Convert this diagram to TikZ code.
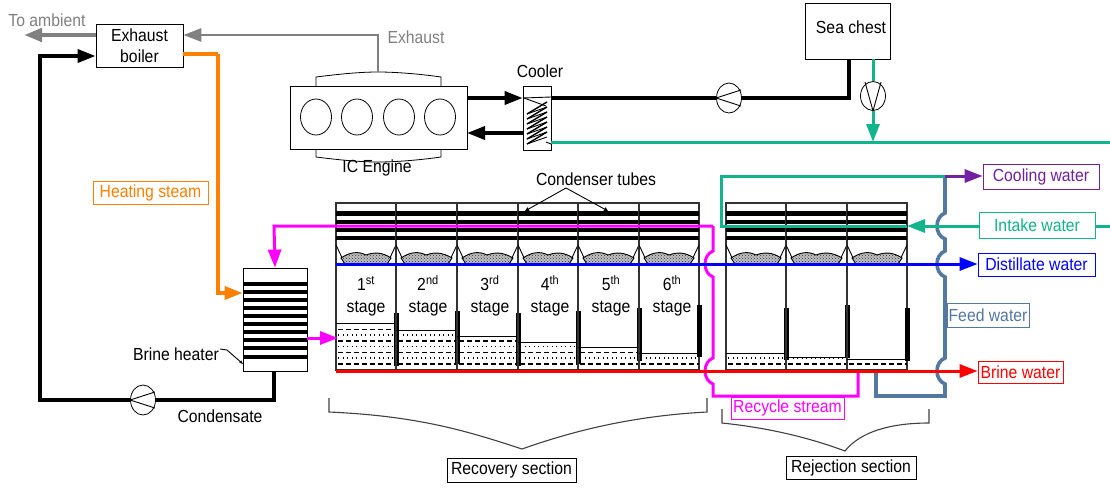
\documentclass[tikz,border=0pt]{standalone}
\usepackage{fontspec}
\setmainfont{Liberation Sans}[FakeStretch=0.9]
\usetikzlibrary{arrows.meta,calc,patterns,shapes.geometric}
\definecolor{steamorange}{RGB}{255,128,0}
\definecolor{seagreen}{RGB}{18,180,140}
\definecolor{feedsteel}{RGB}{84,120,160}
\definecolor{coolpurple}{RGB}{112,32,160}
\definecolor{exhaustgray}{RGB}{128,128,128}
\definecolor{recyclepink}{RGB}{255,0,255}
\definecolor{distblue}{RGB}{0,0,255}
\definecolor{brinered}{RGB}{255,0,0}
\tikzset{
    plant diagram/.style = {>={Triangle[length=18pt,width=13pt]}, x=1pt, y=-1pt,
                            every node/.style={font=\fontsize{17.5}{22}\selectfont}},
    unit/.style       = {draw, thick, fill=white, align=center, inner sep=0pt},
    tag/.style        = {draw=#1, text=#1, thick, fill=white, inner sep=0pt},
    pipe/.style       = {line width=3.6pt, line join=miter},
    thinpipe/.style   = {line width=3pt, line join=miter},
    wall/.style       = {draw=black!80, line width=1.6pt},
    tube/.style       = {line width=4.6pt},
    weir/.style       = {line width=5pt},
    thinline/.style   = {line width=0.9pt},
    pumpbody/.style   = {draw, thick, fill=white, ellipse, inner sep=0pt},
    jump/.style 2 args = {insert path={
        -- (#1,#2-13) .. controls (#1-5,#2-11) and (#1-8,#2-6) .. (#1-8,#2)
        .. controls (#1-8,#2+6) and (#1-5,#2+11) .. (#1,#2+13)}}
}
\newcommand{\flashstage}[6]{%
    \draw[wall] (#2,203) rectangle (#3,370);
    \foreach \tuberow in {213.5,222,230,238}
        \draw[tube] (#2,\tuberow) -- (#3,\tuberow);
    \fill[white] (#2+1,241) rectangle (#3-1,262);
    \draw[thinline] (#2,245) -- (#2+9,264) (#3,245) -- (#3-9,264);
    \draw[thinline, preaction={fill=black!25}, pattern=crosshatch dots, pattern color=black!80]
        (#2+9,264) -- (#2+5,258) .. controls (#2+14,252) and (#2+22,251) .. (#2+30,255)
        .. controls (#2+38,252) and (#2+46,252) .. (#3-5,258) -- (#3-9,264) -- cycle;
    \begin{scope}
        \clip (#2,#4) rectangle (#3,370);
        \foreach \liquidrow in {0,1,2,3} {
            \draw[line width=1.1pt, dash pattern=on 5pt off 3pt]
                (#2+2,364-11.5*\liquidrow) -- (#3,364-11.5*\liquidrow);
            \draw[line width=1.1pt, dash pattern=on 1.2pt off 3.3pt]
                (#2+2,358-11.5*\liquidrow) -- (#3,358-11.5*\liquidrow);
        }
    \end{scope}
    \draw[thinline] (#2,#4) -- (#3-1,#4);
    \draw[weir] (#3,#5) -- (#3,#6);
    \coordinate (#1) at (#2,203);
}
\newcommand{\pumpleft}[2]{%
    \node[pumpbody, minimum width=25pt, minimum height=30pt] (#1) at #2 {};
    \draw[thinline] ($(#1.east)+(-1,-8)$) -- (#1.west) -- ($(#1.east)+(-1,8)$);
}
\newcommand{\pumpdown}[2]{%
    \node[pumpbody, minimum width=25pt, minimum height=29pt] (#1) at #2 {};
    \draw[thinline] ($(#1.north)+(-8,1)$) -- (#1.south) -- ($(#1.north)+(8,1)$);
}
\begin{document}
\begin{tikzpicture}[plant diagram]
\useasboundingbox (0,0) rectangle (1110,488);

% Exhaust side: engine, boiler and the cooler loop.
\node[unit, minimum width=87pt, minimum height=43pt] (boiler) at (139.5,45.5) {Exhaust\\[-1pt]boiler};
\node[text=exhaustgray] (ambient) at (47,20) {To ambient};
\coordinate (ambientend) at (24,35);
\draw[->, exhaustgray, line width=4.5pt] (boiler.west |- ambientend) -- (ambientend);
\node[unit, minimum width=177pt, minimum height=63pt] (engine) at (378.5,117.5) {};
\foreach \cyl in {316,357,399,440}
    \draw[thick] (\cyl,117) ellipse (15.5pt and 18pt);
\draw[thick] (316,86) -- (316,77) .. controls (340,74) and (360,72) .. (378,72)
    .. controls (396,72) and (420,74) .. (441,77) -- (441,86);
\draw[thick] (316,149) -- (316,157) .. controls (340,160) and (360,162) .. (378,162)
    .. controls (396,162) and (420,160) .. (441,157) -- (441,149);
\node (enginename) at (377,168) {IC Engine};
\coordinate (exhausttop) at (378,35);
\node[text=exhaustgray, anchor=west] (exhaustname) at (384,37) {Exhaust};
\draw[->, exhaustgray, line width=2.8pt] (378,72) -- (exhausttop) -- (boiler.east |- exhausttop);
\node[unit, minimum width=28pt, minimum height=64pt] (cooler) at (537,118) {};
\node (coolername) at (540,71) {Cooler};
\draw[thinline] (523,98) -- (551,97);
\foreach \coilrow in {102,107,...,132} {
    \draw[line width=1.4pt] (547,\coilrow) -- (527,\coilrow+12);
    \draw[thinline] (527,\coilrow+12) -- (547,\coilrow+5);
}
\draw[thinline] (524,98) -- (546,106) (546,142) -- (551,144);
\coordinate (engineout) at (467,98);
\coordinate (enginein) at (467,133);
\draw[->, pipe] (engineout) -- (cooler.west |- engineout);
\draw[->, pipe] (cooler.west |- enginein) -- (enginein);

% Sea chest with the two pumps.
\node[unit, minimum width=85pt, minimum height=56pt] (seachest) at (847.5,31) {};
\node (seachestname) at (851,27) {Sea chest};
\pumpleft{coolerpump}{(729,98)}
\coordinate (chestbend) at (849,98);
\draw[pipe] (cooler.east |- engineout) -- (coolerpump.west);
\draw[pipe] (coolerpump.east) -- (chestbend) -- (chestbend |- seachest.south);
\coordinate (seaend) at (1110,142);
\draw[seagreen, thinpipe] (cooler.east |- seaend) -- (seaend);
\pumpdown{seapump}{(873,96)}
\coordinate (seamain) at (873,142);
\draw[seagreen, thinpipe] (seapump.north |- seachest.south) -- (seapump.north);
\draw[->, seagreen, thinpipe] (seapump.south) -- (seamain);

% Flash stages of the recovery and the rejection section.
\flashstage{stageone}{336}{396}{323}{313}{366}
\flashstage{stagetwo}{396}{457}{330}{311}{364}
\flashstage{stagethree}{457}{518}{336}{313}{366}
\flashstage{stagefour}{518}{578}{342}{311}{364}
\flashstage{stagefive}{578}{639}{347}{308}{361}
\flashstage{stagesix}{639}{699}{353}{305}{357}
\flashstage{stageseven}{726}{786}{353}{308}{360}
\flashstage{stageeight}{786}{847}{357}{305}{358}
\flashstage{stagenine}{847}{907}{359}{308}{361}
\node[align=center] (labelone) at (366,296) {1\textsuperscript{st}\\stage};
\node[align=center] (labeltwo) at (428,296) {2\textsuperscript{nd}\\stage};
\node[align=center] (labelthree) at (490,296) {3\textsuperscript{rd}\\stage};
\node[align=center] (labelfour) at (550,296) {4\textsuperscript{th}\\stage};
\node[align=center] (labelfive) at (611,296) {5\textsuperscript{th}\\stage};
\node[align=center] (labelsix) at (672,296) {6\textsuperscript{th}\\stage};
\node (tubesname) at (596,179) {Condenser tubes};
\coordinate (tubesapex) at (566,188);
\draw[thinline, -{Triangle[length=4pt,width=4pt]}] (tubesapex) -- (525,211);
\draw[thinline, -{Triangle[length=4pt,width=4pt]}] (tubesapex) -- (608,211);

% Brine heater and its steam and condensate lines.
\node[unit, minimum width=64pt, minimum height=103pt] (heater) at (275,319.5) {};
\foreach \heaterrow in {284,292,300,308,316,324,332,340,348,357}
    \draw[tube] (heater.west |- 0,\heaterrow) -- (heater.east |- 0,\heaterrow);
\node (heatername) at (176,354) {Brine heater};
\draw[thinline, -{Stealth[length=4pt]}] (220,349) -- (227,350) -- (243,364);
\coordinate (steamtop) at (218,54);
\coordinate (steambend) at (218,293);
\draw[steamorange, pipe] (boiler.east |- steamtop) -- (steamtop);
\draw[->, steamorange, pipe] (steamtop) -- (steambend) -- (heater.west |- steambend);
\node[tag=steamorange, minimum width=115pt, minimum height=23pt] (steamname) at (150.5,192.5) {Heating steam};
\pumpleft{condpump}{(143,400)}
\coordinate (condbend) at (274,400);
\coordinate (boilerbend) at (40,56);
\draw[pipe] (heater.south -| condbend) -- (condbend) -- (condpump.east);
\draw[->, pipe] (condpump.west) -- (boilerbend |- condbend) -- (boilerbend) -- (boiler.west |- boilerbend);
\node (condname) at (220,416) {Condensate};

% Recycle, feed, product and reject streams.
\coordinate (recyclecorner) at (713,226);
\coordinate (recyclelow) at (713,396);
\coordinate (recycleend) at (858,371);
\draw[->, recyclepink, thinpipe] (recyclecorner) -- (274,226) -- (heater.north);
\draw[recyclepink, thinpipe] (recyclecorner) [jump={713}{264}] [jump={713}{371}]
    -- (recyclelow) -- (recycleend |- recyclelow) -- (recycleend);
\coordinate (heaterout) at (307,338);
\draw[->, recyclepink, thinpipe] (heater.east |- heaterout) -- (338,338);
\node[tag=recyclepink, minimum width=113pt, minimum height=22pt] (recyclename) at (787.5,408) {Recycle stream};
\node[tag=coolpurple, minimum width=116pt, minimum height=25pt] (coolingname) at (1041,176.5) {Cooling water};
\node[tag=seagreen, minimum width=116pt, minimum height=26pt] (intakename) at (1037,225) {Intake water};
\node[tag=distblue, minimum width=117pt, minimum height=23pt] (distname) at (1036.5,264.5) {Distillate water};
\node[tag=brinered, minimum width=85pt, minimum height=22pt] (brinename) at (1020.5,372) {Brine water};
\coordinate (feedtop) at (945,176);
\coordinate (feedlow) at (945,396);
\coordinate (feedend) at (876,371);
\draw[feedsteel, pipe] (feedtop) [jump={945}{226}] [jump={945}{264}] [jump={945}{371}]
    -- (feedlow) -- (feedend |- feedlow) -- (feedend);
\node[tag=feedsteel, minimum width=82pt, minimum height=24pt] (feedname) at (988,315) {Feed water};
\coordinate (intakeend) at (1110,226);
\coordinate (intakeleft) at (721,226);
\draw[seagreen, thinpipe] (intakeend) -- (intakename.east |- intakeend);
\draw[->, seagreen, thinpipe] (intakename.west |- intakeend) -- (907,226);
\draw[seagreen, thinpipe] (907,226) -- (intakeleft) -- (intakeleft |- feedtop) -- (feedtop);
\draw[->, coolpurple, thinpipe] (feedtop) -- (coolingname.west |- feedtop);
\coordinate (diststart) at (336,264);
\coordinate (brinestart) at (336,371);
\draw[->, distblue, thinpipe] (diststart) -- (distname.west |- diststart);
\draw[->, brinered, thinpipe] (brinestart) -- (brinename.west |- brinestart);

% Section braces.
\draw[line width=1.1pt, black!75] (329,398) -- (329,412) .. controls (420,416) and (470,432) .. (522,449)
    .. controls (570,432) and (630,416) .. (707,412) -- (707,398);
\draw[line width=1.1pt, black!75] (722,409) -- (722,423) .. controls (770,428) and (810,438) .. (845,451)
    .. controls (860,432) and (890,423) .. (929,423) -- (929,409);
\node[unit, minimum width=129pt, minimum height=24pt] (recoveryname) at (511.5,470) {Recovery section};
\node[unit, minimum width=130pt, minimum height=23pt] (rejectionname) at (851,467.5) {Rejection section};
\end{tikzpicture}
\end{document}
